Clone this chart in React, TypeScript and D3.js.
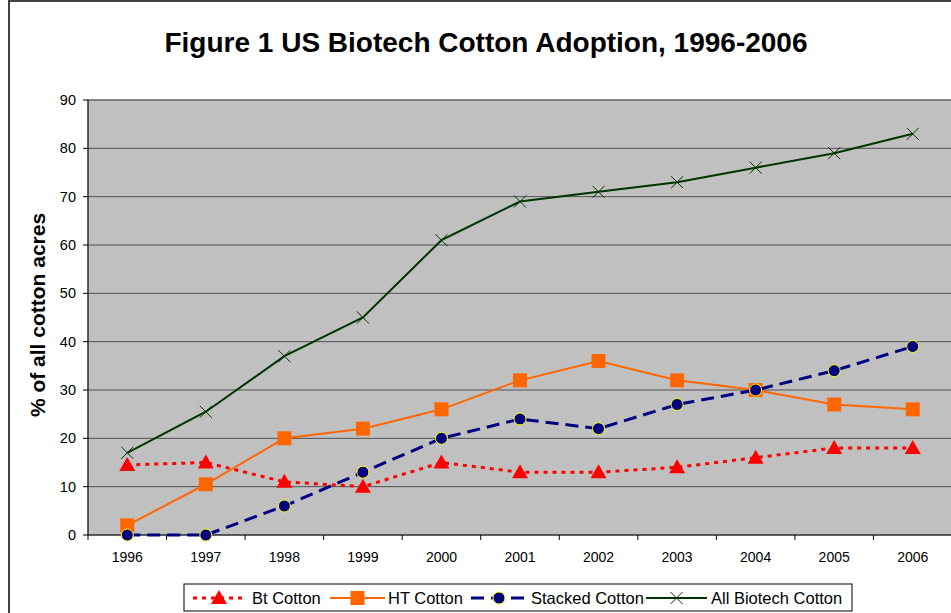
import React from 'react'
import * as d3 from 'd3'

const years = ['1996', '1997', '1998', '1999', '2000', '2001', '2002', '2003', '2004', '2005', '2006']
const btCotton = [14.5, 15, 11, 10, 15, 13, 13, 14, 16, 18, 18]
const htCotton = [2, 10.5, 20, 22, 26, 32, 36, 32, 30, 27, 26]
const stackedCotton = [0, 0, 6, 13, 20, 24, 22, 27, 30, 34, 39]
const allBiotech = [17, 25.5, 37, 45, 61, 69, 71, 73, 76, 79, 83]
const yTicks = [0, 10, 20, 30, 40, 50, 60, 70, 80, 90]

const W = 951
const H = 613
const margin = { left: 88, top: 100, right: -1, bottom: 78 }
const width = W - margin.left - margin.right
const height = H - margin.top - margin.bottom
const font = '"Liberation Sans", Arial, sans-serif'

const x = d3.scaleBand().domain(years).range([0, width])
const y = d3.scaleLinear().domain([0, 90]).range([height, 0])
const cx = (yr: string) => (x(yr) as number) + x.bandwidth() / 2

const Marker = ({ kind, px, py }: { kind: string; px: number; py: number }) => {
  if (kind === 'tri') {
    const s = 8
    return <path d={`M${px},${py - s}L${px + s},${py + s * 0.75}L${px - s},${py + s * 0.75}Z`} fill="#FF0000" />
  }
  if (kind === 'sq') return <rect x={px - 7} y={py - 7} width={14} height={14} fill="#FF6600" />
  if (kind === 'circ') return <circle cx={px} cy={py} r={6} fill="#000080" stroke="#FFFF00" strokeWidth={1} />
  return (
    <path d={`M${px - 6},${py - 6}L${px + 6},${py + 6}M${px - 6},${py + 6}L${px + 6},${py - 6}`} stroke="#003300" strokeWidth={1} />
  )
}

const series = [
  { name: 'Bt Cotton', values: btCotton, color: '#FF0000', width: 3, dash: '4,5', marker: 'tri' },
  { name: 'HT Cotton', values: htCotton, color: '#FF6600', width: 2, dash: undefined, marker: 'sq' },
  { name: 'Stacked Cotton', values: stackedCotton, color: '#000080', width: 3, dash: '13,7', marker: 'circ' },
  { name: 'All Biotech Cotton', values: allBiotech, color: '#003300', width: 2, dash: undefined, marker: 'x' },
]

const legendPos = [
  { line: [193, 245], text: 252 },
  { line: [330, 385], text: 388 },
  { line: [471, 527], text: 531 },
  { line: [646, 707], text: 711 },
]

export default function App() {
  const line = d3.line<number>().x((_, i) => cx(years[i])).y((d) => y(d))
  return (
    <svg width={W} height={H} style={{ position: 'absolute', left: 0, top: 0, background: '#fff' }}>
      <rect x={9} y={1} width={960} height={640} fill="#fff" stroke="#404040" strokeWidth={2} />
      <text x={486} y={52} textAnchor="middle" fontFamily={font} fontWeight="bold" fontSize={28}>
        Figure 1 US Biotech Cotton Adoption, 1996-2006
      </text>
      <text transform={`translate(45,${315}) rotate(-90)`} textAnchor="middle" fontFamily={font} fontWeight="bold" fontSize={21}>
        % of all cotton acres
      </text>
      <g transform={`translate(${margin.left},${margin.top})`}>
        <rect x={0} y={0} width={width} height={height} fill="#C0C0C0" stroke="#808080" />
        {yTicks.map((t) => (
          <g key={t}>
            {t > 0 && <line x1={0} x2={width} y1={y(t)} y2={y(t)} stroke="#505050" strokeWidth={1} />}
            <line x1={-5} x2={0} y1={y(t)} y2={y(t)} stroke="#000" />
            <text x={-12} y={y(t)} dy="0.35em" textAnchor="end" fontFamily={font} fontSize={14.5}>
              {t}
            </text>
          </g>
        ))}
        <line x1={0} x2={0} y1={0} y2={height} stroke="#000" />
        <line x1={0} x2={width} y1={height} y2={height} stroke="#000" />
        {years.map((yr) => (
          <g key={yr}>
            <line x1={x(yr) as number} x2={x(yr) as number} y1={height} y2={height + 5} stroke="#000" />
            <text x={cx(yr)} y={height + 27} textAnchor="middle" fontFamily={font} fontSize={14}>
              {yr}
            </text>
          </g>
        ))}
        {series.map((s) => (
          <g key={s.name}>
            <path d={line(s.values) as string} fill="none" stroke={s.color} strokeWidth={s.width} strokeDasharray={s.dash} />
            {s.values.map((v, i) => (
              <Marker key={i} kind={s.marker} px={cx(years[i])} py={y(v)} />
            ))}
          </g>
        ))}
      </g>
      <rect x={184} y={584} width={668} height={27} fill="#fff" stroke="#000" strokeWidth={1} />
      {series.map((s, i) => {
        const p = legendPos[i]
        const ly = 598
        return (
          <g key={s.name}>
            <line x1={p.line[0]} x2={p.line[1]} y1={ly} y2={ly} stroke={s.color} strokeWidth={s.width} strokeDasharray={s.dash} />
            <Marker kind={s.marker} px={(p.line[0] + p.line[1]) / 2} py={ly} />
            <text x={p.text} y={ly} dy="0.36em" fontFamily={font} fontSize={16.5}>
              {s.name}
            </text>
          </g>
        )
      })}
    </svg>
  )
}
